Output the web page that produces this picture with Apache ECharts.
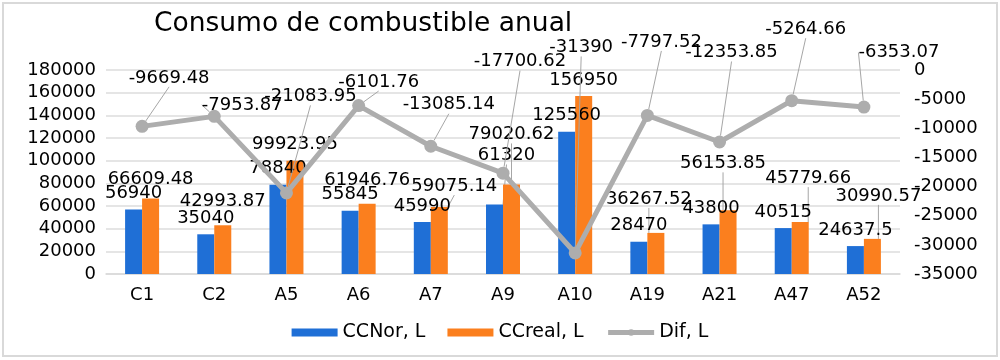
<!DOCTYPE html>
<html>
<head>
<meta charset="utf-8">
<script src="https://cdn.jsdelivr.net/npm/echarts@6/dist/echarts.min.js"></script>
<style>
  html, body { margin: 0; padding: 0; background: #fff; }
  #chart { width: 1000px; height: 360px; }
</style>
</head>
<body>
<div id="chart"></div>
<script>
const categories = ['C1', 'C2', 'A5', 'A6', 'A7', 'A9', 'A10', 'A19', 'A21', 'A47', 'A52']
const ccNor = [56940, 35040, 78840, 55845, 45990, 61320, 125560, 28470, 43800, 40515, 24637.5]
const ccReal = [66609.48, 42993.87, 99923.95, 61946.76, 59075.14, 79020.62, 156950, 36267.52, 56153.85, 45779.66, 30990.57]
const dif = [-9669.48, -7953.87, -21083.95, -6101.76, -13085.14, -17700.62, -31390, -7797.52, -12353.85, -5264.66, -6353.07]

// label nudges (px) so the labels sit like the original sheet
const norShift = [[0, 0], [0, 0], [0, 0], [0, 0], [0, 0], [12, -33], [0, 0], [0, 0], [0, 0], [0, 0], [0, 0]]
const realShift = [[0, -3], [0, -8], [0, 0], [0, -7], [15, -5], [0, -34], [0, 0], [-7, -18], [-5, -31], [8, -28], [6, -27]]
const difShift = [[27, -28], [28, 9], [24, -76], [20, -3], [18, -21], [17, -91], [6, -185], [14, -53], [12, -69], [14, -51], [35, -34]]

const font = 'DejaVu Sans'
const chart = echarts.init(document.getElementById('chart'))

function shifted(list) {
  return function (params) {
    const s = list[params.dataIndex] || [0, 0]
    return { dx: s[0], dy: s[1] }
  }
}

function withLines(values, shifts) {
  return values.map((v, i) => ({
    value: v,
    labelLine: { show: shifts[i][0] !== 0 || shifts[i][1] < -10 }
  }))
}

const plain = v => String(v)

chart.setOption({
  animation: false,
  backgroundColor: '#fff',
  textStyle: { fontFamily: font },
  title: {
    text: 'Consumo de combustible anual',
    left: 149,
    top: 6,
    textStyle: { fontFamily: font, fontSize: 26.5, fontWeight: 'normal', color: '#000' }
  },
  graphic: [{
    type: 'rect',
    shape: { x: 3, y: 3, width: 994, height: 353 },
    style: { fill: 'none', stroke: '#d9d9d9', lineWidth: 2 },
    silent: true
  }],
  grid: { left: 106, right: 100, top: 70, bottom: 86 },
  legend: {
    bottom: 13,
    left: 'center',
    itemWidth: 46,
    itemHeight: 8,
    itemGap: 22,
    textStyle: { fontFamily: font, fontSize: 19, color: '#000' },
    data: [
      { name: 'CCNor, L', icon: 'rect' },
      { name: 'CCreal, L', icon: 'rect' },
      { name: 'Dif, L', lineStyle: { width: 5, color: '#adadad' } }
    ]
  },
  xAxis: {
    type: 'category',
    data: categories,
    axisTick: { show: false },
    axisLine: { lineStyle: { color: '#d9d9d9', width: 1.5 } },
    axisLabel: { color: '#000', fontSize: 18, fontFamily: font, margin: 12 }
  },
  yAxis: [
    {
      type: 'value',
      min: 0,
      max: 180000,
      interval: 20000,
      axisLine: { show: false },
      axisTick: { show: false },
      axisLabel: { color: '#000', fontSize: 18, fontFamily: font, margin: 10, formatter: plain },
      splitLine: { lineStyle: { color: '#dcdcdc', width: 1.5 } }
    },
    {
      type: 'value',
      min: -35000,
      max: 0,
      interval: 5000,
      axisLine: { show: false },
      axisTick: { show: false },
      axisLabel: { color: '#000', fontSize: 18, fontFamily: font, margin: 14, formatter: plain },
      splitLine: { show: false }
    }
  ],
  series: [
    {
      name: 'CCNor, L',
      type: 'bar',
      barWidth: 17,
      barGap: '0%',
      itemStyle: { color: '#1f6fd6' },
      data: withLines(ccNor, norShift),
      label: { show: true, position: 'top', distance: 7, color: '#000', fontSize: 18, fontFamily: font },
      labelLine: { lineStyle: { color: '#a6a6a6', width: 1 } },
      labelLayout: shifted(norShift)
    },
    {
      name: 'CCreal, L',
      type: 'bar',
      barWidth: 17,
      barGap: '0%',
      itemStyle: { color: '#fb7f1e' },
      data: withLines(ccReal, realShift),
      label: { show: true, position: 'top', distance: 7, color: '#000', fontSize: 18, fontFamily: font },
      labelLine: { lineStyle: { color: '#a6a6a6', width: 1 } },
      labelLayout: shifted(realShift)
    },
    {
      name: 'Dif, L',
      type: 'line',
      yAxisIndex: 1,
      z: 5,
      symbol: 'circle',
      symbolSize: 13,
      lineStyle: { color: '#adadad', width: 5 },
      itemStyle: { color: '#adadad' },
      data: dif.map(v => ({ value: v, labelLine: { show: true } })),
      label: { show: true, position: 'top', distance: 5, color: '#000', fontSize: 18, fontFamily: font },
      labelLine: { show: true, lineStyle: { color: '#a6a6a6', width: 1 } },
      labelLayout: shifted(difShift)
    }
  ]
})
</script>
</body>
</html>
